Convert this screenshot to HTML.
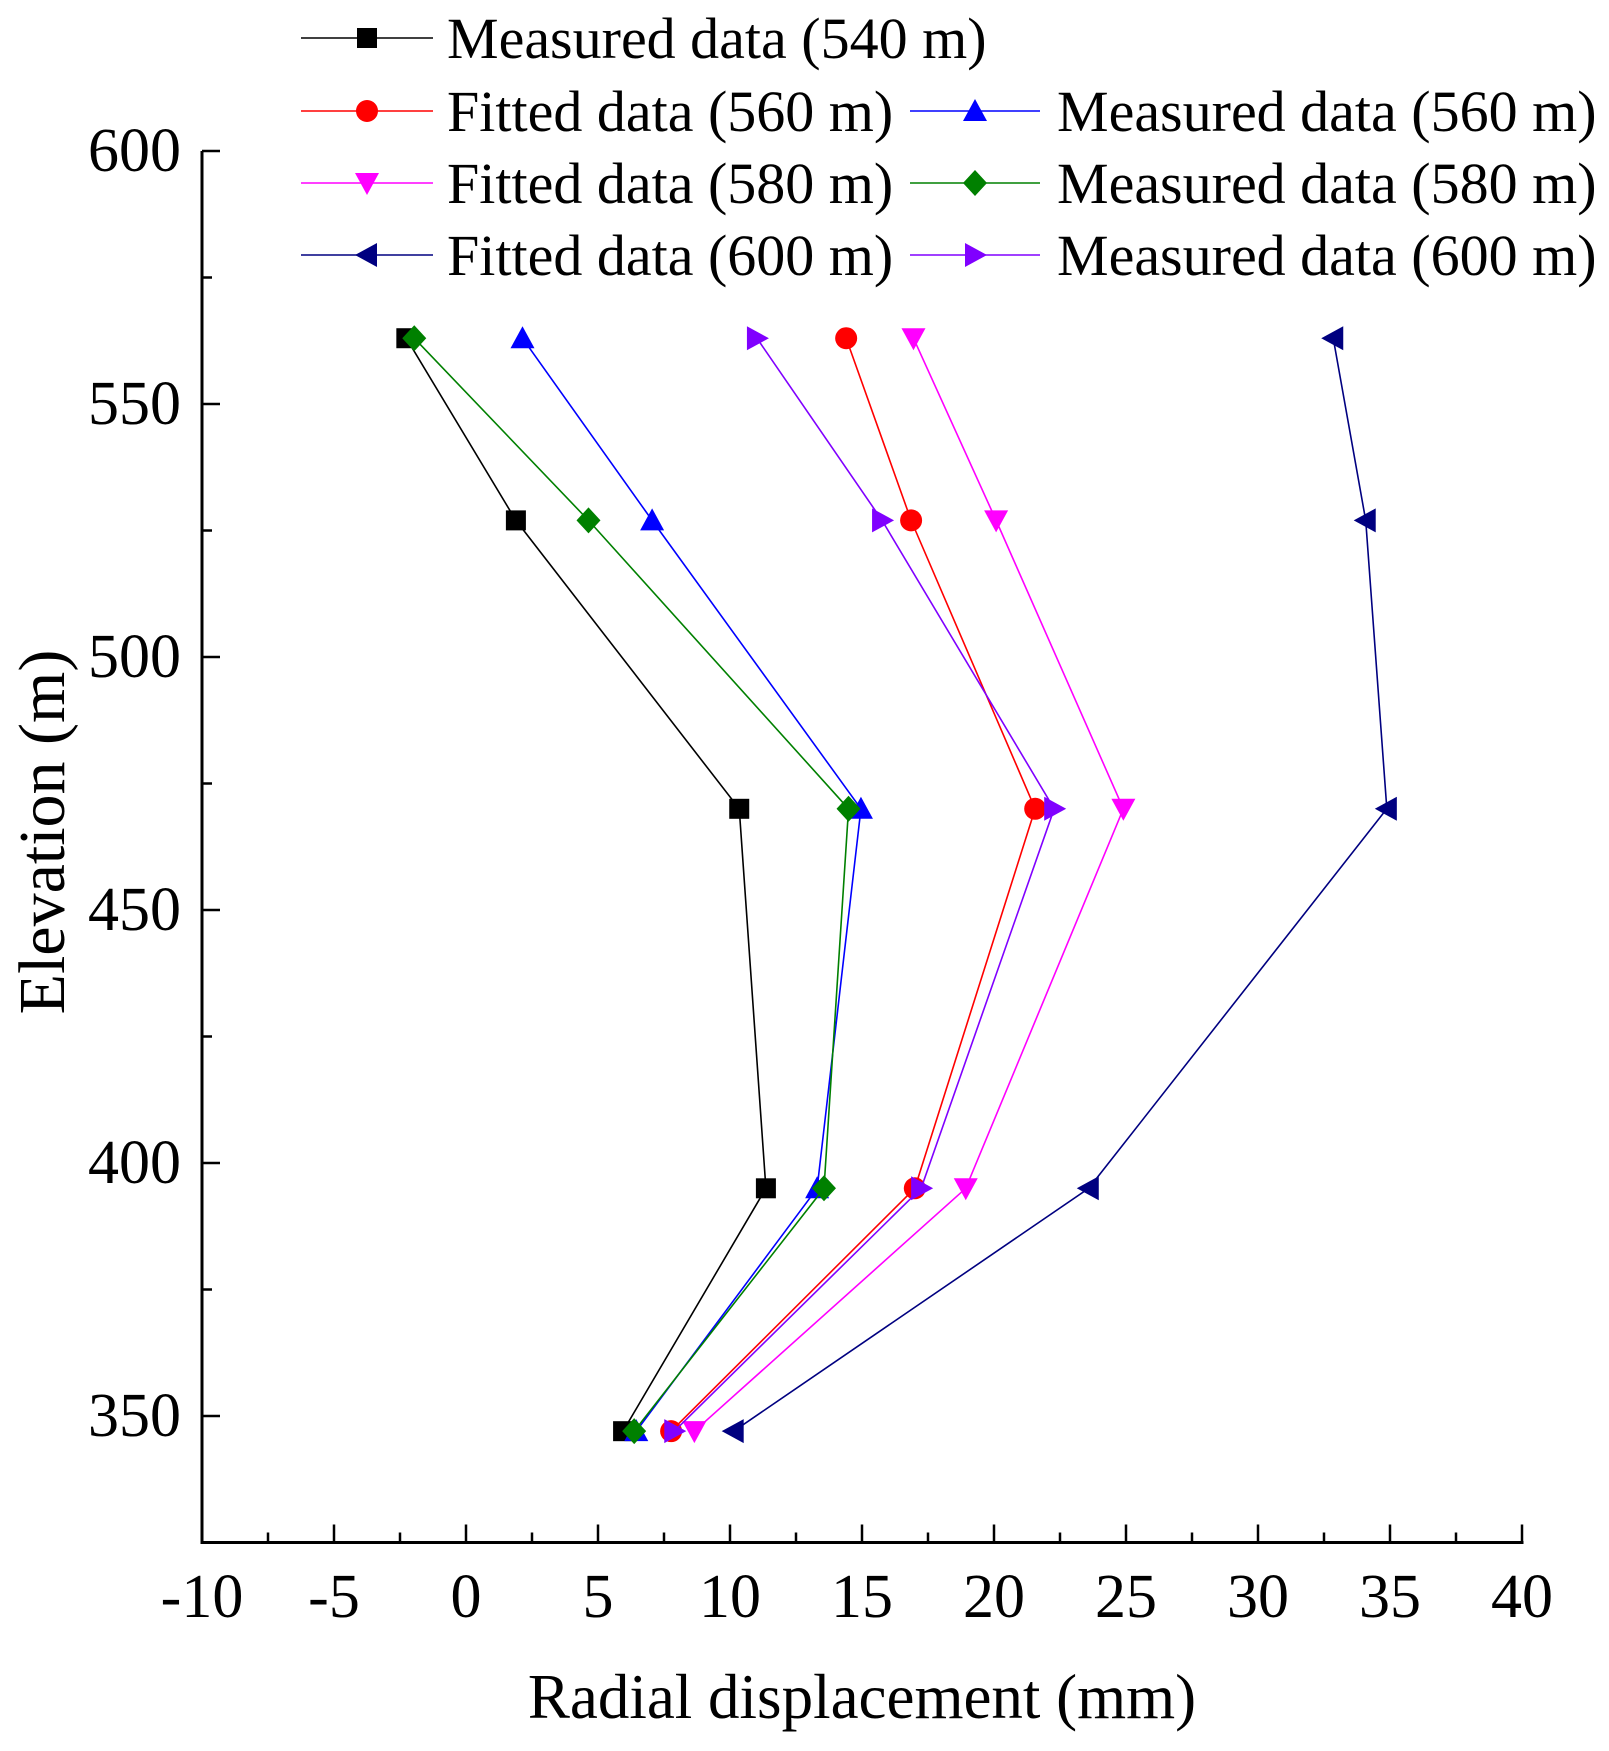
<!DOCTYPE html>
<html><head><meta charset="utf-8"><style>
html,body{margin:0;padding:0;background:#fff;}
svg{display:block;font-family:"Liberation Serif",serif;}
</style></head><body>
<svg id="chart" width="1609" height="1751" viewBox="0 0 1609 1751" xmlns="http://www.w3.org/2000/svg">
<g id="axes"></g>
<g id="series"></g>
<g id="legend"></g>
<text x="0" y="0" transform="translate(64,832) rotate(-90)" text-anchor="middle" font-size="66">Elevation (m)</text>
<text x="862" y="1718" text-anchor="middle" font-size="63">Radial displacement (mm)</text>
</svg>
<script>
const elevations = [563, 527, 470, 395, 347];
const xTicks = [-10, -5, 0, 5, 10, 15, 20, 25, 30, 35, 40];
const yTicks = [350, 400, 450, 500, 550, 600];
const seriesNames = ["Measured data (540 m)","Fitted data (560 m)","Measured data (560 m)","Fitted data (580 m)","Measured data (580 m)","Fitted data (600 m)","Measured data (600 m)"];
const seriesColors = ["#000000","#ff0000","#0000ff","#ff00ff","#008000","#000080","#8000ff"];
const seriesMarkers = ["square","circle","up","down","diamond","left","right"];
const measured540 = [-2.26, 1.89, 10.35, 11.36, 5.95];
const fitted560 = [14.4, 16.86, 21.56, 17.0, 7.77];
const measured560 = [2.14, 7.05, 14.96, 13.3, 6.45];
const fitted580 = [16.95, 20.08, 24.9, 18.93, 8.65];
const measured580 = [-1.96, 4.64, 14.49, 13.56, 6.37];
const fitted600 = [32.85, 34.08, 34.88, 23.59, 10.14];
const measured600 = [11.02, 15.76, 22.28, 17.24, 7.89];
const allSeries = [measured540, fitted560, measured560, fitted580, measured580, fitted600, measured600];

const NS = "http://www.w3.org/2000/svg";
const X0 = 202, X1 = 1522, XMIN = -10, XMAX = 40;
const YTOP = 151, YMAXV = 600, YMINV = 325, PXU = 5.06;
function xs(v){ return X0 + (v - XMIN) * (X1 - X0) / (XMAX - XMIN); }
function ys(v){ return YTOP + (YMAXV - v) * PXU; }
function mk(tag, attrs, parent){ const e = document.createElementNS(NS, tag); for (const k in attrs) e.setAttribute(k, attrs[k]); parent.appendChild(e); return e; }

const axes = document.getElementById('axes');
const yb = ys(YMINV);
let l = mk('line', {x1:X0, y1:YTOP, x2:X0, y2:yb+1.5, stroke:'#000','stroke-width':3}, axes);


l = mk('line', {x1:X0-1.5, y1:yb, x2:X1+1.5, y2:yb, stroke:'#000','stroke-width':3}, axes);


for (let v = XMIN; v <= XMAX + 0.01; v += 2.5) {
  const major = Math.abs(v % 5) < 0.01;
  const t = mk('line', {x1:xs(v), y1:yb, x2:xs(v), y2:yb - (major ? 18 : 10), stroke:'#000','stroke-width':2.5}, axes);
  
  
}
xTicks.forEach(v => {
  const t = mk('text', {x:xs(v), y:1617, 'text-anchor':'middle','font-size':62}, axes);
  t.textContent = String(v);
  
  
});
for (let v = 600; v >= 350; v -= 25) {
  const major = v % 50 === 0;
  const t = mk('line', {x1:X0, y1:ys(v), x2:X0 + (major ? 18 : 10), y2:ys(v), stroke:'#000','stroke-width':2.5}, axes);
  
  
}
yTicks.forEach(v => {
  const t = mk('text', {x:181, y:ys(v)+20, 'text-anchor':'end','font-size':62}, axes);
  t.textContent = String(v);
  
  
});

function marker(type, cx, cy, color, parent){
  const s = 11; let e;
  if (type === 'square') e = mk('rect', {x:cx-s+1, y:cy-s+1, width:2*s-2, height:2*s-2, fill:color}, parent);
  else if (type === 'circle') e = mk('ellipse', {cx:cx, cy:cy, rx:s, ry:s, fill:color}, parent);
  else if (type === 'diamond') e = mk('polygon', {points:`${cx},${cy-s-2} ${cx+s+1},${cy} ${cx},${cy+s+2} ${cx-s-1},${cy}`, fill:color}, parent);
  else if (type === 'up') e = mk('polygon', {points:`${cx},${cy-s-1} ${cx+s+1},${cy+s-1} ${cx-s-1},${cy+s-1}`, fill:color}, parent);
  else if (type === 'down') e = mk('polygon', {points:`${cx},${cy+s+1} ${cx+s+1},${cy-s+1} ${cx-s-1},${cy-s+1}`, fill:color}, parent);
  else if (type === 'left') e = mk('polygon', {points:`${cx-s-1},${cy} ${cx+s-1},${cy-s-1} ${cx+s-1},${cy+s+1}`, fill:color}, parent);
  else e = mk('polygon', {points:`${cx+s+1},${cy} ${cx-s+1},${cy-s-1} ${cx-s+1},${cy+s+1}`, fill:color}, parent);
  return e;
}

const sg = document.getElementById('series');
allSeries.forEach((vals, i) => {
  const g = mk('g', {}, sg);
  
  
  const pts = vals.map((v, j) => xs(v) + ',' + ys(elevations[j])).join(' ');
  const pl = mk('polyline', {points:pts, fill:'none', stroke:seriesColors[i], 'stroke-width':1.6}, g);
  
  
  vals.forEach((v, j) => {
    const m = marker(seriesMarkers[i], xs(v), ys(elevations[j]), seriesColors[i], g);
    
    
  });
});

const lg = document.getElementById('legend');
const legendPos = [[0,38],[0,111],[1,111],[0,183],[1,183],[0,255],[1,255]];
const colX = [[301,433,367,447],[910,1040,975,1057]];
seriesNames.forEach((name, i) => {
  const [c, y] = legendPos[i];
  const [lx1, lx2, mx, tx] = colX[c];
  const g = mk('g', {}, lg);
  
  
  mk('line', {x1:lx1, y1:y, x2:lx2, y2:y, stroke:seriesColors[i], 'stroke-width':1.6}, g);
  marker(seriesMarkers[i], mx, y, seriesColors[i], g);
  const t = mk('text', {x:tx, y:y+20, 'font-size':58}, g);
  t.textContent = name;
});
</script>
</body></html>
